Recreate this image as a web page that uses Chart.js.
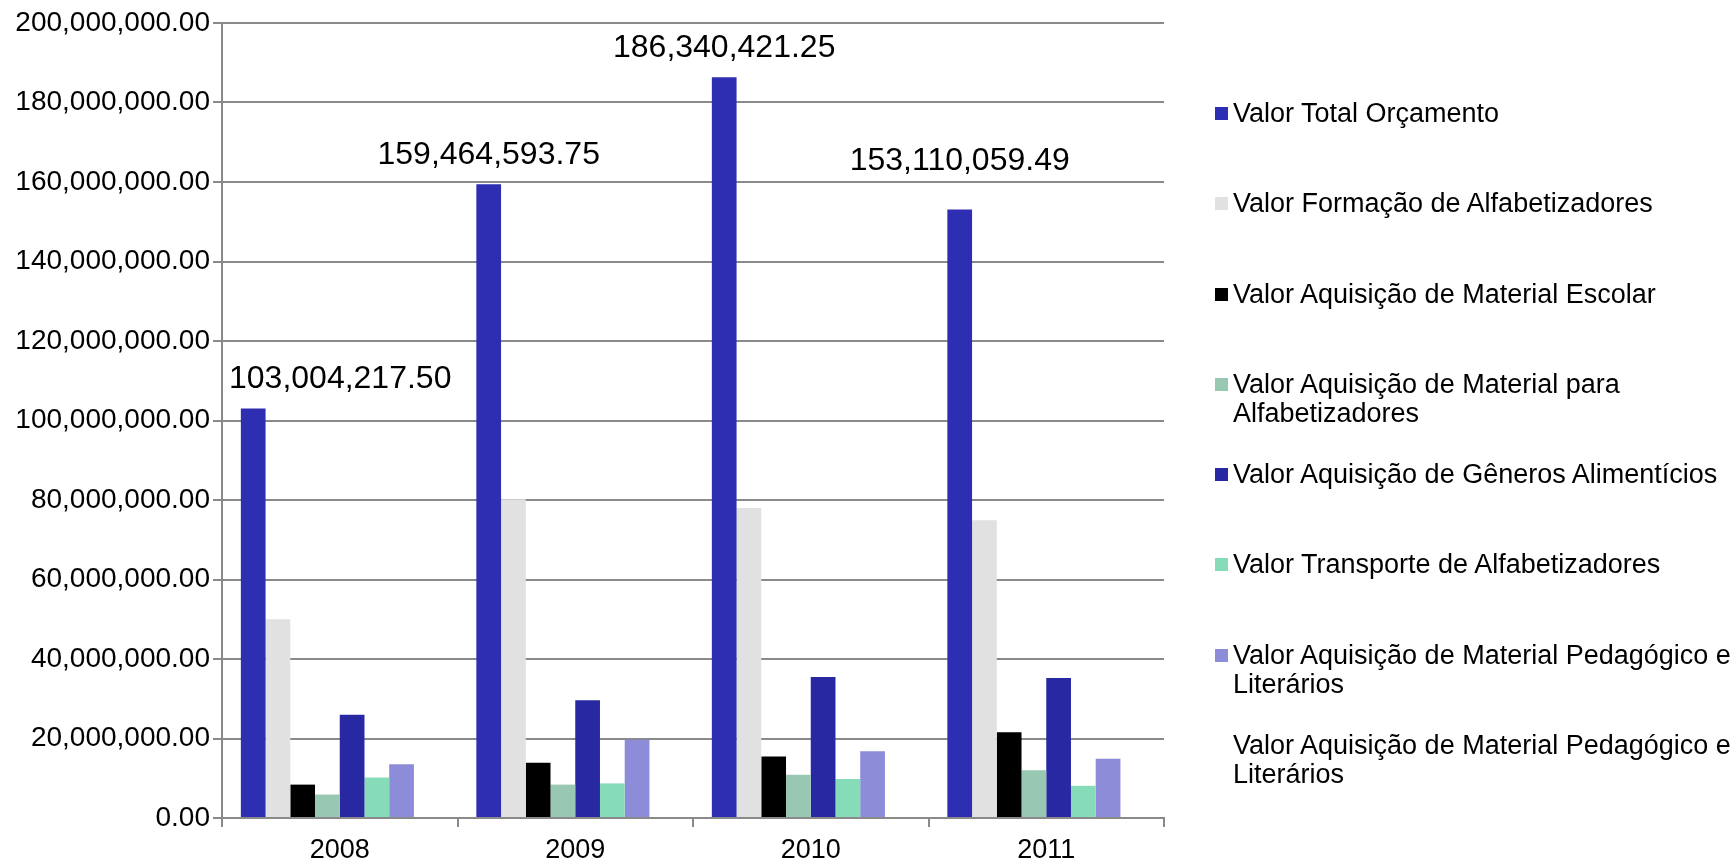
<!DOCTYPE html>
<html>
<head>
<meta charset="utf-8">
<script src="https://cdn.jsdelivr.net/npm/chart.js@4.4.1/dist/chart.umd.min.js"></script>
<style>
    html, body { margin: 0; padding: 0; background: #fff; }
    #wrap { position: relative; width: 1731px; height: 863px; overflow: hidden; }
    #legend {
        position: absolute; left: 1215px; top: 99px;
        font-family: "Liberation Sans", Arial, sans-serif; font-size: 27px; line-height: 29px; color: #000;
        white-space: nowrap;
    }
    .item { position: relative; height: 90.3px; padding-left: 18px; }
    .box { position: absolute; left: 0; top: 8px; width: 13px; height: 13px; }
</style>
</head>
<body>
<div id="wrap">
    <canvas id="chart" width="1731" height="863"></canvas>
    <div id="legend"></div>
</div>
<script>
const years = ['2008', '2009', '2010', '2011'];

const valorTotal = [103004217.50, 159464593.75, 186340421.25, 153110059.49];
const formacaoAlfabetizadores = [50000000, 80200000, 78000000, 74900000];
const materialEscolar = [8400000, 13900000, 15500000, 21600000];
const materialAlfabetizadores = [5900000, 8400000, 10900000, 12000000];
const generosAlimenticios = [26000000, 29600000, 35500000, 35200000];
const transporteAlfabetizadores = [10200000, 8700000, 9800000, 8100000];
const materialPedagogico = [13500000, 19700000, 16800000, 14900000];
const materialPedagogico2 = [null, null, null, null];

const yTicks = [0, 20000000, 40000000, 60000000, 80000000, 100000000, 120000000, 140000000, 160000000, 180000000, 200000000];

const series = [
    { label: 'Valor Total Orçamento', data: valorTotal, color: '#2e2eb3' },
    { label: 'Valor Formação de Alfabetizadores', data: formacaoAlfabetizadores, color: '#e1e1e1' },
    { label: 'Valor Aquisição de Material Escolar', data: materialEscolar, color: '#000000' },
    { label: 'Valor Aquisição de Material para Alfabetizadores', data: materialAlfabetizadores, color: '#98c8b2' },
    { label: 'Valor Aquisição de Gêneros Alimentícios', data: generosAlimenticios, color: '#2828a2' },
    { label: 'Valor Transporte de Alfabetizadores', data: transporteAlfabetizadores, color: '#86dbb8' },
    { label: 'Valor Aquisição de Material Pedagógico e Literários', data: materialPedagogico, color: '#8c8cd8' },
    { label: 'Valor Aquisição de Material Pedagógico e Literários', data: materialPedagogico2, color: 'rgba(0,0,0,0)' }
];

// legend wraps like the original
const legendLines = [
    ['Valor Total Orçamento'],
    ['Valor Formação de Alfabetizadores'],
    ['Valor Aquisição de Material Escolar'],
    ['Valor Aquisição de Material para', 'Alfabetizadores'],
    ['Valor Aquisição de Gêneros Alimentícios'],
    ['Valor Transporte de Alfabetizadores'],
    ['Valor Aquisição de Material Pedagógico e', 'Literários'],
    ['Valor Aquisição de Material Pedagógico e', 'Literários']
];

function fmt(v) {
    return v.toLocaleString('en-US', { minimumFractionDigits: 2, maximumFractionDigits: 2 });
}

const font = '"Liberation Sans", Arial, sans-serif';
const gridColor = '#8a8a8a';

// value labels above the first series
const totalLabels = {
    id: 'totalLabels',
    afterDatasetsDraw(chart, args, opts) {
        const ctx = chart.ctx;
        const meta = chart.getDatasetMeta(0);
        const area = chart.chartArea;
        ctx.save();
        ctx.font = opts.size + 'px ' + font;
        ctx.fillStyle = '#000';
        ctx.textBaseline = 'middle';
        ctx.textAlign = 'left';
        meta.data.forEach((bar, i) => {
            const text = fmt(chart.data.datasets[0].data[i]);
            const w = ctx.measureText(text).width;
            let x = bar.x - w / 2;
            if (x < area.left + 7) x = area.left + 7;
            ctx.fillText(text, x, bar.y - opts.gap - opts.lift[i]);
        });
        ctx.restore();
    }
};

const ctx = document.getElementById('chart').getContext('2d');
new Chart(ctx, {
    type: 'bar',
    data: {
        labels: years,
        datasets: series.map(s => ({
            label: s.label,
            data: s.data,
            backgroundColor: s.color,
            borderWidth: 0,
            categoryPercentage: 0.84,
            barPercentage: 1.0
        }))
    },
    options: {
        responsive: false,
        animation: false,
        devicePixelRatio: 1,
        layout: { padding: { top: 23, right: 567, bottom: 0, left: 0 } },
        plugins: {
            legend: { display: false },
            tooltip: { enabled: false },
            totalLabels: { size: 32, gap: 29, lift: [0, 0, 0, 19] }
        },
        scales: {
            x: {
                afterFit: s => { s.height = 45; },
                grid: { offset: true, drawOnChartArea: false, drawTicks: true, tickLength: 9, color: gridColor, lineWidth: 2 },
                border: { display: true, color: gridColor, width: 2 },
                ticks: { color: '#000', font: { family: font, size: 27 }, padding: 7 }
            },
            y: {
                min: 0,
                max: 200000000,
                afterFit: s => { s.width = 222; },
                afterBuildTicks: s => { s.ticks = yTicks.map(v => ({ value: v })); },
                grid: { color: gridColor, lineWidth: 2, tickLength: 9 },
                border: { display: true, color: gridColor, width: 2 },
                ticks: {
                    color: '#000',
                    font: { family: font, size: 28 },
                    padding: 3,
                    callback: v => fmt(v)
                }
            }
        }
    },
    plugins: [totalLabels]
});

const legend = document.getElementById('legend');
series.forEach((s, i) => {
    const item = document.createElement('div');
    item.className = 'item';
    const box = document.createElement('span');
    box.className = 'box';
    box.style.background = s.color;
    item.appendChild(box);
    legendLines[i].forEach(line => {
        const d = document.createElement('div');
        d.textContent = line;
        item.appendChild(d);
    });
    legend.appendChild(item);
});
</script>
</body>
</html>
